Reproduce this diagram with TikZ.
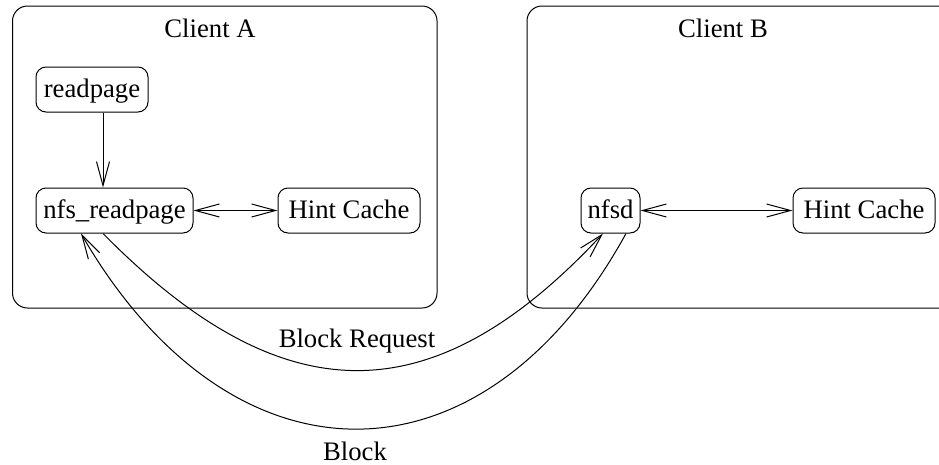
\documentclass[tikz,border=0pt]{standalone}
\usepackage{fontspec}
\setmainfont{Liberation Serif}
\usetikzlibrary{arrows.meta}
\begin{document}
\begin{tikzpicture}[x=1pt,y=-1pt,line width=1pt,
  font=\fontsize{26.7}{32}\selectfont,
  clientbox/.style={draw,rounded corners=15pt},
  proc/.style={draw,rounded corners=10pt,inner sep=0pt,minimum height=45pt,
    text height=15pt,text depth=0pt},
  lbl/.style={anchor=base,inner sep=0pt},
  arr/.style={-{Straight Barb[length=24pt,width=13pt]}},
  darr/.style={{Straight Barb[length=24pt,width=13pt]}-{Straight Barb[length=24pt,width=13pt]}}]
\useasboundingbox (0,0) rectangle (939,464);
\clip (0,0) rectangle (939,464);
% client boxes
\draw[clientbox] (12.5,6) rectangle (437,308);
\draw[clientbox] (527,6) rectangle (980,308);
\node[lbl] (ta) at (210,37) {Client A};
\node[lbl] (tb) at (723,37) {Client B};
% processes
\node[proc,minimum width=112pt] (rp) at (92,89.5) {readpage};
\node[proc,minimum width=157pt] (nfsrp) at (114.5,210.5) {nfs\_readpage};
\node[proc,minimum width=142pt] (hca) at (349,210.5) {Hint Cache};
\node[proc,minimum width=59pt] (nfsd) at (610.5,210.5) {nfsd};
\node[proc,minimum width=142pt] (hcb) at (864,210.5) {Hint Cache};
% connectors
\draw[arr] ([xshift=11pt]rp.south) -- ([xshift=11pt]rp.south |- nfsrp.north);
\draw[darr] (nfsrp.east) -- (hca.west);
\draw[darr] (nfsd.east) -- (hcb.west);
\draw[arr] ([xshift=-11.5pt]nfsrp.south) .. controls (283,416) and (433,416) .. ([xshift=-7.5pt]nfsd.south);
\draw[arr] ([xshift=15.5pt]nfsd.south) .. controls (483,494) and (232,494) .. ([xshift=-33.5pt]nfsrp.south);
\node[lbl] (lbr) at (357,347) {Block Request};
\node[lbl] (lb) at (355,460) {Block};
\end{tikzpicture}
\end{document}
